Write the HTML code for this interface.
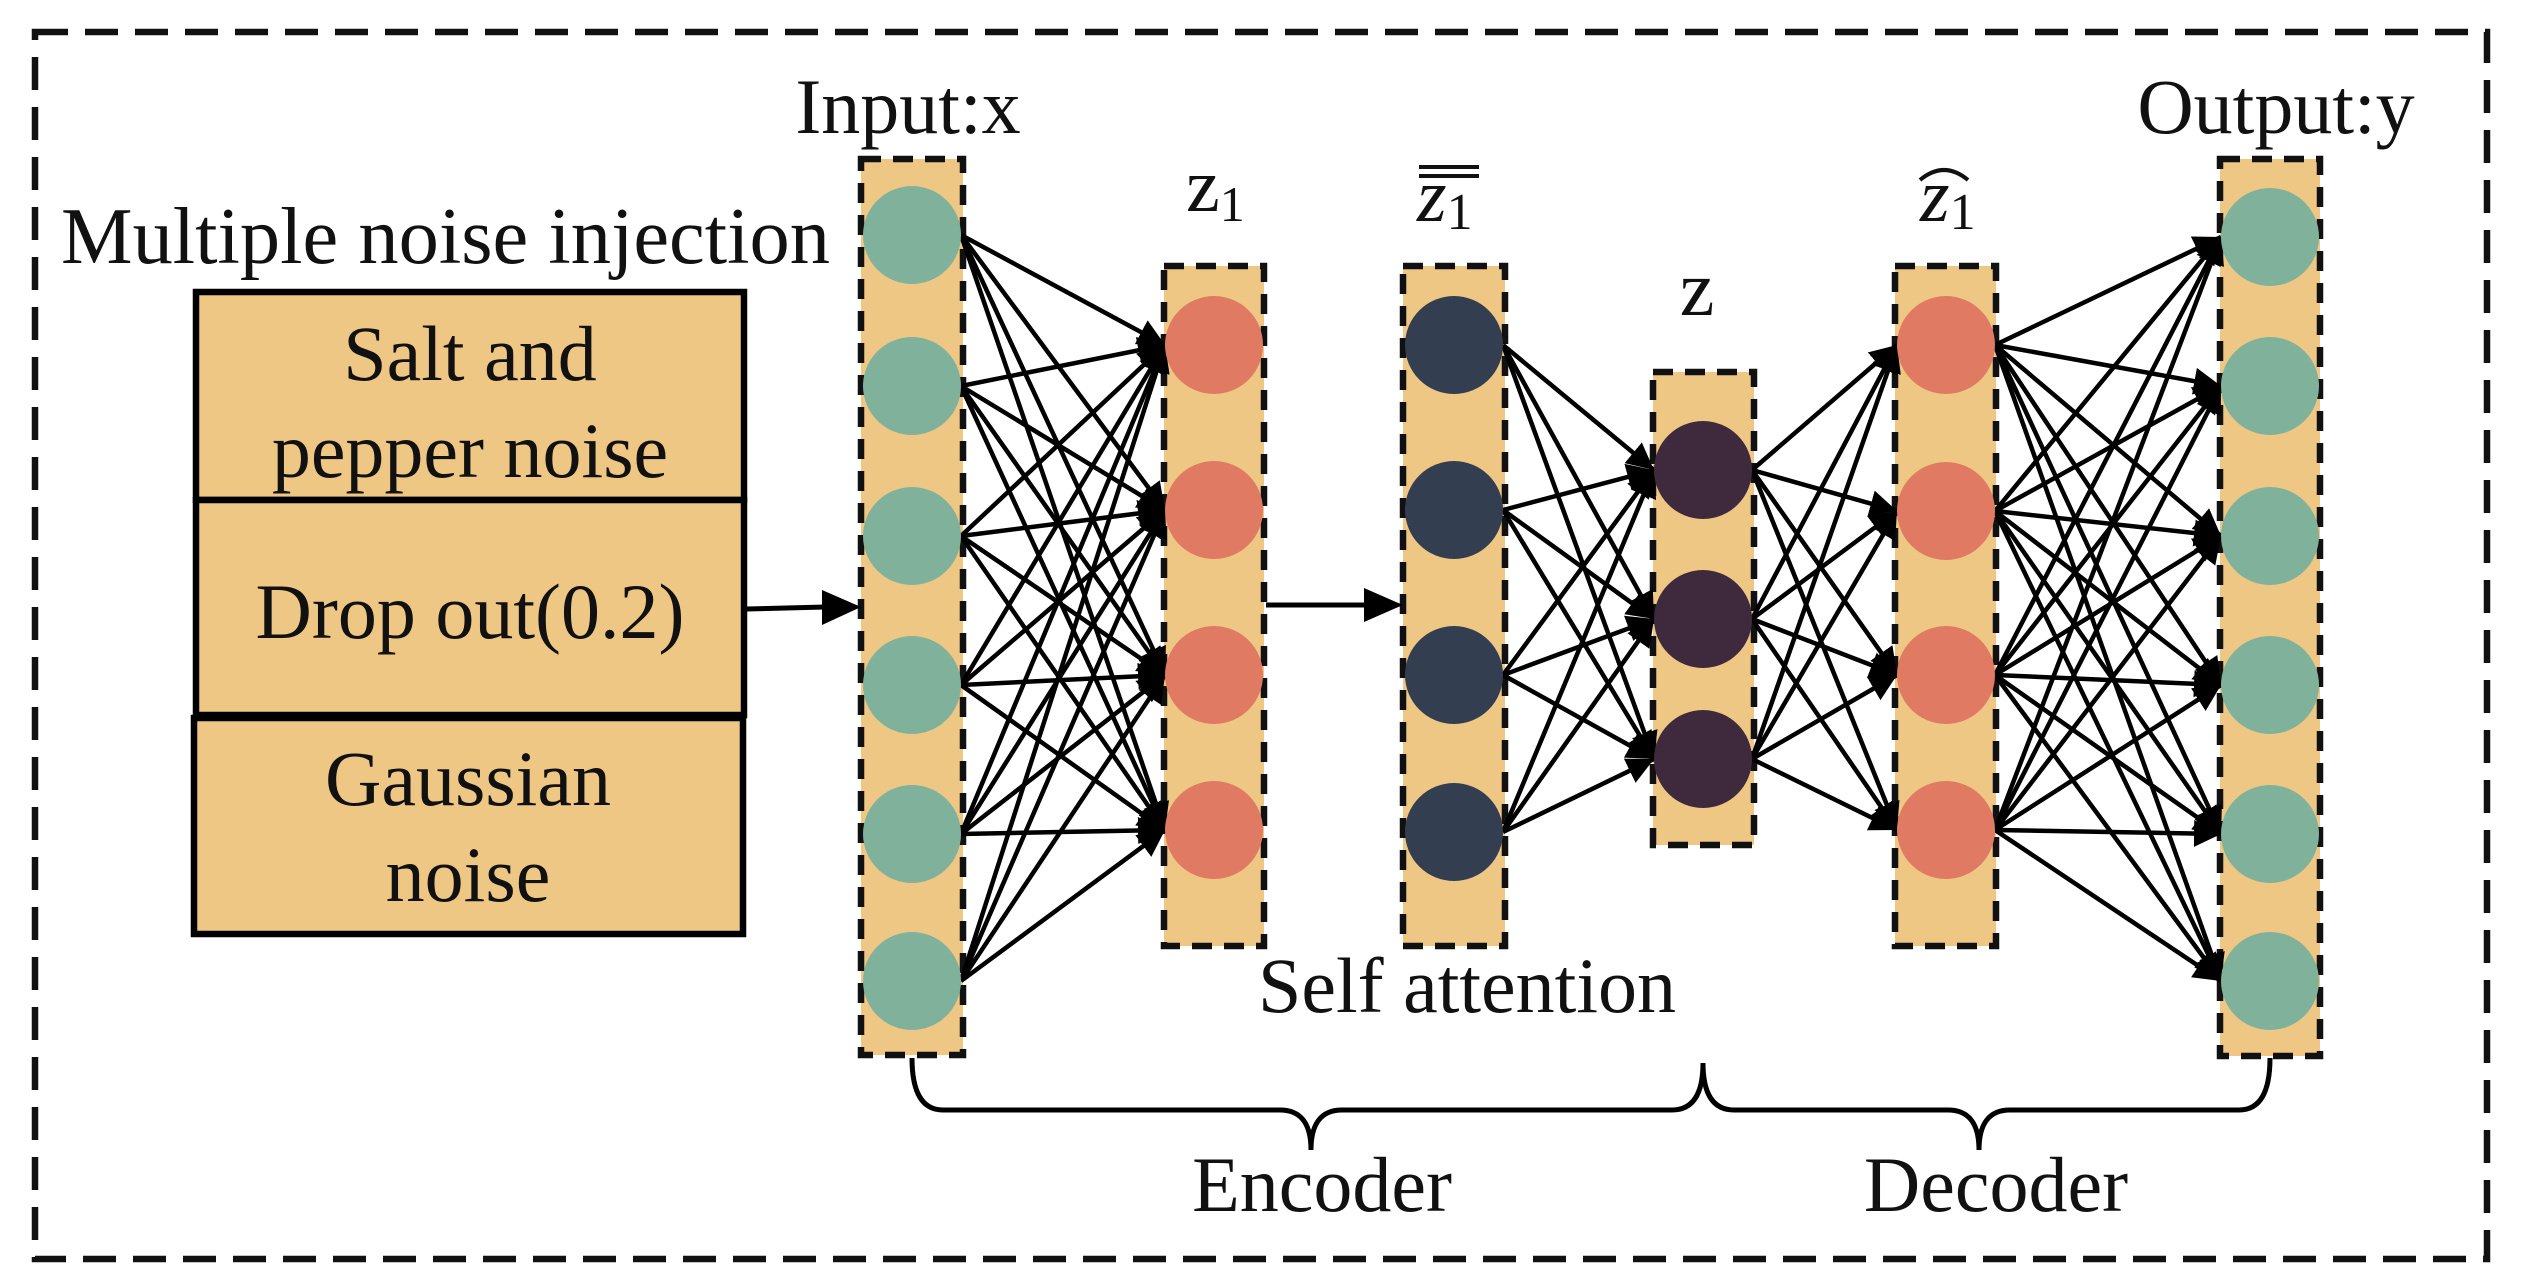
<!DOCTYPE html>
<html><head><meta charset="utf-8"><style>
html,body{margin:0;padding:0;background:#fff;}
svg{display:block;}
text{font-family:"Liberation Serif",serif;fill:#111;}
</style></head><body>
<svg id="s" width="2525" height="1282" viewBox="0 0 2525 1282" xmlns="http://www.w3.org/2000/svg">
<defs>
<marker id="ah" viewBox="0 0 10 10" refX="10" refY="5" markerWidth="6" markerHeight="6" markerUnits="strokeWidth" orient="auto"><path d="M0,0 L10,5 L0,10 z" fill="#000"/></marker>
</defs>
<rect x="35" y="32" width="2452" height="1227" fill="none" stroke="#111" stroke-width="6.5" stroke-dasharray="33 17"/>
<text x="61" y="263" font-size="80" textLength="769" lengthAdjust="spacingAndGlyphs" fill="#222a35">Multiple noise injection</text>
<rect x="196" y="292" width="548" height="208" fill="#eec784" stroke="#000" stroke-width="6.5"/>
<rect x="196" y="500" width="548" height="215" fill="#eec784" stroke="#000" stroke-width="6.5"/>
<rect x="194" y="718" width="549" height="216" fill="#eec784" stroke="#000" stroke-width="6.5"/>
<g font-size="78" text-anchor="middle">
<text x="470" y="380">Salt and</text>
<text x="470" y="477">pepper noise</text>
<text x="470" y="638">Drop out(0.2)</text>
<text x="468" y="805">Gaussian</text>
<text x="468" y="901">noise</text>
<text x="908" y="133">Input:x</text>
<text x="2276" y="133">Output:y</text>
<text x="1467" y="1012">Self attention</text>
<text x="1322" y="1211">Encoder</text>
<text x="1996" y="1211">Decoder</text>
<text x="1697" y="315">z</text>
</g>
<text x="1186" y="211" font-size="76">z<tspan font-size="50" dy="10">1</tspan></text>
<text x="1417" y="221" font-size="76" font-style="italic">z<tspan font-size="52" font-style="normal" dy="8">1</tspan></text>
<line x1="1419" y1="167" x2="1479" y2="167" stroke="#111" stroke-width="4"/>
<line x1="1419" y1="176" x2="1479" y2="176" stroke="#111" stroke-width="4"/>
<text x="1920" y="221" font-size="76" font-style="italic">z<tspan font-size="52" font-style="normal" dy="8">1</tspan></text>
<path d="M1920,180 Q1944,160 1968,180" fill="none" stroke="#111" stroke-width="4"/>
<g id="cols"></g>
<g id="edges" stroke="#000" stroke-width="4.5" fill="none"></g>
<g id="nodes"></g>
<line x1="746" y1="609" x2="825" y2="607" stroke="#000" stroke-width="5"/>
<path d="M822,590 L861,607 L822,625 z" fill="#000"/>
<line x1="1266" y1="605" x2="1368" y2="605" stroke="#000" stroke-width="5"/>
<path d="M1364,588 L1403,605 L1364,622 z" fill="#000"/>
<path d="M912,1058 Q912,1110 943,1110 L1280,1110 Q1311,1110 1311,1150 Q1311,1110 1342,1110 L1672,1110 Q1703,1110 1703,1063 Q1703,1110 1734,1110 L1948,1110 Q1979,1110 1979,1150 Q1979,1110 2010,1110 L2239,1110 Q2270,1110 2270,1058" fill="none" stroke="#000" stroke-width="5"/>
</svg>
<script>
var NS="http://www.w3.org/2000/svg";
var L=[
 {cx:912,x:861,y:159,w:102,h:896,c:"#80b29b",ys:[235,386,536,685,834,981]},
 {cx:1214,x:1164,y:266,w:100,h:680,c:"#e07a62",ys:[345,510,675,830]},
 {cx:1454,x:1403,y:266,w:102,h:680,c:"#333e50",ys:[345,510,675,832]},
 {cx:1703,x:1653,y:372,w:101,h:473,c:"#3e2a3c",ys:[470,619,759]},
 {cx:1946,x:1895,y:266,w:101,h:680,c:"#e07a62",ys:[345,511,675,830]},
 {cx:2270,x:2220,y:159,w:100,h:897,c:"#80b29b",ys:[237,386,536,685,834,981]}
];
var r=49;
function el(t,a,p){var e=document.createElementNS(NS,t);for(var k in a)e.setAttribute(k,a[k]);document.getElementById(p).appendChild(e);return e;}
L.forEach(function(l){
 el("rect",{x:l.x,y:l.y,width:l.w,height:l.h,fill:"#eec784",stroke:"#111","stroke-width":6.5,"stroke-dasharray":"20 12"},"cols");
 l.ys.forEach(function(y){el("circle",{cx:l.cx,cy:y,r:r,fill:l.c},"nodes");});
});
[[0,1],[2,3],[3,4],[4,5]].forEach(function(p){
 var a=L[p[0]],b=L[p[1]];
 a.ys.forEach(function(y1){b.ys.forEach(function(y2){
  el("line",{x1:a.cx+r,y1:y1,x2:b.cx-r,y2:y2,"marker-end":"url(#ah)"},"edges");
 });});
});
</script>
</body></html>
